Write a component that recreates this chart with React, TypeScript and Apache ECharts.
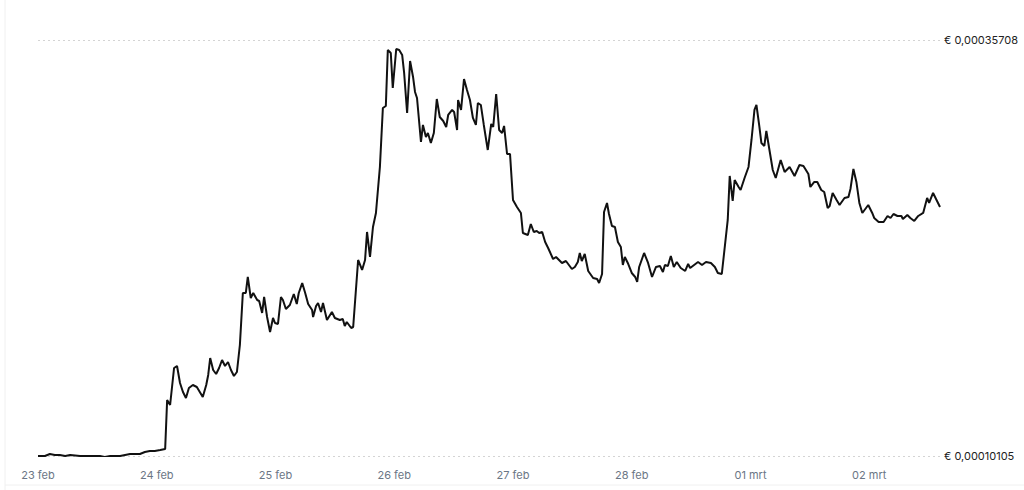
import React, { useEffect, useRef } from "react";
import * as echarts from "echarts";

// hours since 23 feb 00:00
const hours = [
  0.0, 1.4, 2.4, 3.4, 4.4, 5.5, 6.5, 8.5, 10.5, 12.5, 13.5, 14.6, 16.6, 17.6, 18.6, 20.6, 21.6, 22.6, 23.6, 24.7,
  25.7, 26.1, 26.7, 27.5, 28.1, 28.7, 29.3, 29.9, 30.5, 31.3, 32.1, 32.7, 33.3, 34.0, 34.4, 34.8, 35.4, 36.0, 36.6, 37.2,
  37.8, 38.4, 39.0, 39.6, 40.2, 40.8, 41.4, 42.0, 42.4, 43.0, 43.5, 44.3, 44.7, 45.3, 45.7, 46.3, 46.9, 47.5, 47.9, 48.5,
  49.1, 49.5, 50.1, 50.9, 51.7, 52.3, 52.7, 53.4, 54.0, 54.6, 55.4, 55.6, 56.2, 56.6, 57.2, 57.6, 58.4, 59.4, 60.0, 61.0,
  61.6, 62.0, 62.4, 63.3, 63.7, 64.7, 65.5, 66.1, 66.5, 67.1, 67.7, 68.3, 69.1, 69.7, 70.3, 70.7, 71.3, 71.7, 72.4, 73.0,
  73.6, 74.0, 74.6, 75.2, 75.8, 76.2, 76.6, 77.4, 77.8, 78.4, 78.8, 79.4, 80.0, 80.6, 81.2, 81.9, 82.5, 82.9, 83.7, 84.1,
  84.7, 84.9, 85.5, 86.1, 86.7, 87.3, 87.9, 88.5, 88.9, 89.5, 90.1, 90.9, 91.6, 92.0, 92.6, 93.2, 93.8, 94.2, 94.8, 95.4,
  96.0, 96.8, 97.6, 98.0, 99.0, 99.6, 100.2, 100.8, 101.3, 101.9, 102.5, 103.1, 104.1, 104.7, 105.9, 106.7, 107.9, 108.5, 109.1, 109.5,
  109.9, 110.5, 111.2, 112.2, 113.0, 113.4, 114.0, 114.4, 115.0, 115.4, 116.0, 116.6, 117.2, 117.8, 118.2, 118.6, 119.2, 120.0, 120.7, 121.1,
  121.5, 122.5, 123.3, 124.1, 124.9, 125.7, 126.3, 126.7, 127.3, 127.9, 128.5, 129.1, 129.9, 130.8, 131.4, 131.8, 132.6, 133.4, 134.2, 135.0,
  136.0, 136.8, 137.4, 138.2, 139.4, 139.8, 140.4, 140.8, 141.6, 142.0, 142.8, 143.6, 144.2, 144.8, 145.2, 145.8, 146.2, 146.8, 147.2, 147.9,
  148.5, 149.1, 150.1, 150.9, 151.9, 152.9, 153.9, 154.7, 155.7, 156.1, 156.9, 157.5, 158.3, 158.9, 159.6, 160.0, 160.6, 161.4, 162.0, 163.0,
  163.8, 164.2, 164.8, 165.4, 166.0, 166.6, 167.2, 167.8, 168.6, 169.0, 169.9, 170.9, 171.7, 172.3, 172.9, 173.7, 174.5, 174.8, 175.7, 176.3,
  177.1, 177.9, 178.9, 179.7, 180.1, 180.9, 181.7, 182.3,
];

// price in euro
const prices = [
  0.00010105, 0.00010105, 0.00010228, 0.00010167, 0.00010167, 0.00010105, 0.00010167, 0.00010105, 0.00010105, 0.00010105,
  0.00010043, 0.00010105, 0.00010105, 0.00010167, 0.00010228, 0.00010228, 0.00010351, 0.00010413, 0.00010413, 0.00010474,
  0.00010536, 0.00013552, 0.00013244, 0.00015521, 0.00015645, 0.00014598, 0.00014044, 0.00013675, 0.0001429, 0.00014475,
  0.00014352, 0.00014044, 0.00013736, 0.00014475, 0.00015091, 0.00016137, 0.00015398, 0.00015152, 0.00015521, 0.00016014,
  0.00015645, 0.00015891, 0.00015398, 0.00015029, 0.00015275, 0.00016937, 0.00020138, 0.00020138, 0.00021122, 0.0001983,
  0.00020138, 0.00019707, 0.00019645, 0.00018907, 0.00019891, 0.0001866, 0.00017737, 0.00018599, 0.00018291, 0.0001823,
  0.00019891, 0.00019707, 0.00019153, 0.00019399, 0.00020076, 0.00019461, 0.00020138, 0.00020753, 0.00020138, 0.00019461,
  0.00019091, 0.0001866, 0.00019338, 0.00019522, 0.00018968, 0.00019522, 0.00018476, 0.00018968, 0.00018599, 0.00018476,
  0.00018537, 0.00018107, 0.00018353, 0.00017983, 0.00018045, 0.00022169, 0.00021553, 0.00022169, 0.00023892, 0.00022353,
  0.000242, 0.00025062, 0.00027893, 0.00031524, 0.00031648, 0.00035094, 0.0003491, 0.00032755, 0.00035156, 0.00035094,
  0.00034787, 0.00033679, 0.00031217, 0.00034417, 0.00033432, 0.00032509, 0.0003214, 0.00029432, 0.00030478, 0.00029739,
  0.00029986, 0.0002937, 0.00029986, 0.00032078, 0.0003097, 0.00030724, 0.00030355, 0.00031094, 0.00031401, 0.00031278,
  0.0003017, 0.00032017, 0.00031401, 0.00033309, 0.00032632, 0.00032017, 0.00030909, 0.00030478, 0.00031832, 0.00031709,
  0.00030478, 0.00028939, 0.0003054, 0.00030355, 0.00032386, 0.0003017, 0.00029986, 0.00030417, 0.00028693, 0.00028693,
  0.00025862, 0.00025431, 0.00025062, 0.00023831, 0.00023708, 0.00024385, 0.00023892, 0.00023954, 0.00023831, 0.00023892,
  0.00023277, 0.00022907, 0.0002223, 0.00022353, 0.00021984, 0.00022107, 0.00021615, 0.00021738, 0.00022046, 0.000226,
  0.00022107, 0.00022538, 0.00021492, 0.00021061, 0.00020999, 0.00020753, 0.00021307, 0.00025123, 0.00025677, 0.00025,
  0.00024262, 0.000242, 0.00023277, 0.00022969, 0.00021861, 0.00022353, 0.00021984, 0.00021369, 0.00021122, 0.00020815,
  0.00021738, 0.000226, 0.00021984, 0.00021122, 0.00021738, 0.000218, 0.0002143, 0.00021861, 0.000218, 0.00022415,
  0.00021738, 0.00022046, 0.00021676, 0.00021492, 0.00021923, 0.00021676, 0.00021861, 0.00022046, 0.00021861, 0.00022046,
  0.00021984, 0.00021738, 0.00021369, 0.00021307, 0.00024631, 0.00027339, 0.000258, 0.00027093, 0.00026662, 0.00026477,
  0.00027216, 0.00027893, 0.00029555, 0.00031401, 0.00031709, 0.00030355, 0.0002937, 0.00029186, 0.00030109, 0.00028816,
  0.00027708, 0.00027216, 0.00028324, 0.00027585, 0.00027893, 0.00027339, 0.00028016, 0.00027955, 0.00027462, 0.00026662,
  0.0002697, 0.0002697, 0.00026477, 0.00026354, 0.00025369, 0.00025493, 0.00026293, 0.00025862, 0.00025554, 0.00025985,
  0.00026046, 0.00026539, 0.0002777, 0.0002697, 0.00025677, 0.00025062, 0.00025308, 0.00025554, 0.00025062, 0.00024754,
  0.00024508, 0.00024508, 0.00024877, 0.00024754, 0.00025, 0.00024877, 0.00024877, 0.00024692, 0.00024939, 0.00024754,
  0.00024569, 0.00024877, 0.00025062, 0.00025985, 0.00025677, 0.00026293, 0.000258, 0.00025431,
];

const dayLabels = ["23 feb", "24 feb", "25 feb", "26 feb", "27 feb", "28 feb", "01 mrt", "02 mrt"];
const yMin = 0.00010105;
const yMax = 0.00035708;

const fmtEuro = (v: number) => "€ " + v.toFixed(8).replace(".", ",");

export default function App() {
  const ref = useRef<HTMLDivElement>(null);
  useEffect(() => {
    document.body.style.margin = "0";
    if (!ref.current) return;
    const chart = echarts.init(ref.current, undefined, { renderer: "svg" });
    const data = hours.map((h, i) => [h, prices[i]]);
    chart.setOption({
      animation: false,
      backgroundColor: "#ffffff",
      textStyle: { fontFamily: "Inter, 'Noto Sans', sans-serif" },
      grid: { left: 38, right: 84, top: 40, bottom: 34, containLabel: false },
      xAxis: {
        type: "value",
        min: 0,
        max: hours[hours.length - 1],
        interval: 24,
        axisLine: { show: false },
        axisTick: { show: false },
        splitLine: { show: false },
        axisLabel: {
          margin: 13,
          color: "#6b7685",
          fontSize: 11,
          showMaxLabel: false,
          formatter: (v: number) => {
            const i = Math.round(v / 24);
            return Math.abs(v - i * 24) < 0.01 && dayLabels[i] ? dayLabels[i] : "";
          },
        },
      },
      yAxis: {
        type: "value",
        position: "right",
        min: yMin,
        max: yMax,
        axisLine: { show: false },
        axisTick: { show: false, customValues: [yMin, yMax] },
        splitLine: {
          show: true,
          lineStyle: { color: "#d4d4d4", type: [2, 3], width: 1 },
        },
        axisLabel: {
          customValues: [yMin, yMax],
          margin: 4,
          color: "#222222",
          fontSize: 11,
          formatter: (v: number) => fmtEuro(v),
        },
      },
      graphic: [
        { type: "line", shape: { x1: 5, y1: 0, x2: 5, y2: 490 }, style: { stroke: "#f0f0f0", lineWidth: 1 } },
        { type: "line", shape: { x1: 5, y1: 485, x2: 1024, y2: 485 }, style: { stroke: "#f0f0f0", lineWidth: 1 } },
      ],
      series: [
        {
          type: "line",
          data,
          showSymbol: false,
          symbol: "none",
          lineStyle: { color: "#111111", width: 2 },
          z: 3,
        },
      ],
    });
    return () => chart.dispose();
  }, []);
  return (
    <div
      ref={ref}
      style={{ position: "fixed", left: 0, top: 0, width: 1024, height: 490 }}
    />
  );
}
